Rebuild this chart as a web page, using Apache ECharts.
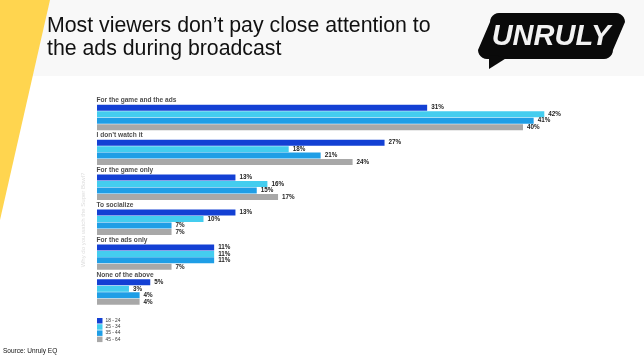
<!DOCTYPE html>
<html>
<head>
<meta charset="utf-8">
<script src="https://cdn.jsdelivr.net/npm/echarts@6/dist/echarts.min.js"></script>
<style>
html,body{margin:0;padding:0;background:#fff;}
#chart{width:644px;height:359px;}
</style>
</head>
<body>
<div id="chart"></div>
<script>
var categories = ['For the game and the ads', 'I don\u2019t watch it', 'For the game only', 'To socialize', 'For the ads only', 'None of the above'];
var seriesNames = ['18 - 24', '25 - 34', '35 - 44', '45 - 64'];
var age18_24 = [31, 27, 13, 13, 11, 5];
var age25_34 = [42, 18, 16, 10, 11, 3];
var age35_44 = [41, 21, 15, 7, 11, 4];
var age45_64 = [40, 24, 17, 7, 7, 4];
var colors = ['#1340d4', '#44cdef', '#1f9ee6', '#a8a8a8'];

function roundedParallelogram(x0, y0, x1, y1, skew, r, steps) {
  var pts = [];
  var cx = [[x0 + skew + r, y0 + r], [x1 - r, y0 + r], [x1 - skew - r, y1 - r], [x0 + r, y1 - r]];
  var angs = [[180, 270], [270, 360], [0, 90], [90, 180]];
  for (var c = 0; c < 4; c++) {
    for (var s = 0; s <= steps; s++) {
      var a = (angs[c][0] + (angs[c][1] - angs[c][0]) * s / steps) * Math.PI / 180;
      pts.push([cx[c][0] + r * Math.cos(a), cx[c][1] + r * Math.sin(a)]);
    }
  }
  return pts;
}

var bubble = roundedParallelogram(478, 13, 625, 59, 12, 9, 6);

var chart = echarts.init(document.getElementById('chart'), null, {renderer: 'canvas'});
var data = [age18_24, age25_34, age35_44, age45_64];
var FONT = 'Liberation Sans, Arial, sans-serif';
var series = seriesNames.map(function (n, i) {
  return {
    name: n,
    type: 'bar',
    data: data[i],
    barWidth: 6,
    barGap: '8%',
    itemStyle: {color: colors[i]},
    label: {
      show: true,
      position: 'right',
      distance: 4,
      formatter: '{c}%',
      fontSize: 6.3,
      fontWeight: 'bold',
      color: '#222',
      fontFamily: FONT
    }
  };
});
series.push({
  name: 'categoryLabels',
  type: 'scatter',
  symbol: 'rect',
  symbolSize: 1,
  silent: true,
  itemStyle: {color: 'rgba(255,255,255,0)'},
  data: categories.map(function (c) { return [0, c]; }),
  label: {
    show: true,
    position: 'right',
    distance: 0,
    offset: [-1, -17],
    formatter: function (p) { return p.value[1]; },
    fontSize: 6.6,
    fontWeight: 'bold',
    color: '#1a1a1a',
    fontFamily: FONT
  }
});

chart.setOption({
  animation: false,
  backgroundColor: '#ffffff',
  graphic: [
    {type: 'rect', z: -10, shape: {x: 0, y: 0, width: 644, height: 76}, style: {fill: '#f8f8f8'}},
    {type: 'polygon', z: -5, shape: {points: [[0, 0], [50, 0], [0, 220]]}, style: {fill: '#ffd54f'}},
    {type: 'text', left: 47, top: 14, style: {text: 'Most viewers don\u2019t pay close attention to\nthe ads during broadcast', fontSize: 21.3, lineHeight: 23.5, fill: '#111', fontFamily: FONT}},
    {type: 'polygon', shape: {points: bubble}, style: {fill: '#0a0a0a'}},
    {type: 'polygon', shape: {points: [[489, 55], [489, 69], [508, 57]]}, style: {fill: '#0a0a0a'}},
    {type: 'text', x: 551, y: 37, style: {text: 'UNRULY', fontSize: 29, fontWeight: 900, fontStyle: 'italic', fill: '#f2f2f2', align: 'center', verticalAlign: 'middle', fontFamily: FONT}},
    {type: 'text', x: 83, y: 220, rotation: Math.PI / 2, style: {text: 'Why do you watch the Super Bowl?', fontSize: 6, fill: '#dcdcdc', align: 'center', verticalAlign: 'middle', fontFamily: FONT}},
    {type: 'text', left: 3, top: 348, style: {text: 'Source: Unruly EQ', fontSize: 6.5, fill: '#111', fontFamily: FONT}}
  ],
  legend: {
    orient: 'vertical',
    left: 97,
    top: 318,
    padding: 0,
    itemWidth: 5.5,
    itemHeight: 5.5,
    itemGap: 0.7,
    icon: 'rect',
    selectedMode: false,
    data: seriesNames,
    textStyle: {fontSize: 4.8, color: '#333', padding: [0, 0, 0, -2], fontFamily: FONT}
  },
  grid: {left: 97, top: 100, width: 532.5, height: 209.5, containLabel: false},
  xAxis: {type: 'value', min: 0, max: 50, show: false},
  yAxis: {
    type: 'category',
    inverse: true,
    data: categories,
    axisLine: {show: false},
    axisTick: {show: false},
    axisLabel: {show: false}
  },
  series: series
});
</script>
</body>
</html>
